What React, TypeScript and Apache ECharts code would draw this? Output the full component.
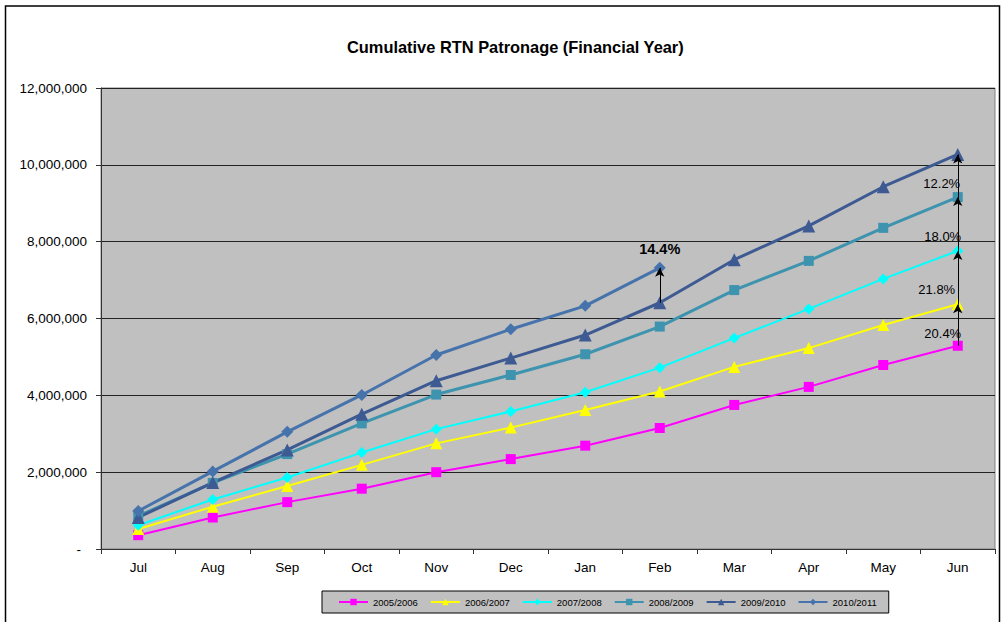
import React, { useEffect, useRef } from "react";
import * as echarts from "echarts";

const months = ["Jul", "Aug", "Sep", "Oct", "Nov", "Dec", "Jan", "Feb", "Mar", "Apr", "May", "Jun"];
const seriesNames = ["2005/2006", "2006/2007", "2007/2008", "2008/2009", "2009/2010", "2010/2011"];

const fy0506 = [360000, 820000, 1220000, 1570000, 2000000, 2340000, 2690000, 3150000, 3750000, 4220000, 4790000, 5290000];
const fy0607 = [520000, 1100000, 1640000, 2190000, 2750000, 3160000, 3620000, 4100000, 4740000, 5230000, 5830000, 6370000];
const fy0708 = [620000, 1290000, 1860000, 2510000, 3120000, 3580000, 4080000, 4720000, 5490000, 6250000, 7030000, 7760000];
const fy0809 = [860000, 1720000, 2470000, 3270000, 4020000, 4530000, 5070000, 5790000, 6740000, 7500000, 8360000, 9160000];
const fy0910 = [820000, 1730000, 2580000, 3510000, 4380000, 4970000, 5570000, 6410000, 7530000, 8410000, 9430000, 10270000];
const fy1011 = [990000, 2020000, 3050000, 4010000, 5050000, 5720000, 6330000, 7320000];

const junGrowthLabels = ["20.4%", "21.8%", "18.0%", "12.2%"];
const febGrowthLabel = "14.4%";

const yTicks = { min: 0, max: 12000000, interval: 2000000 };

const FONT = "'Liberation Sans', Arial, sans-serif";

export default function App() {
  const ref = useRef<HTMLDivElement>(null);

  useEffect(() => {
    document.body.style.margin = "0";
    if (!ref.current) return;
    const chart = echarts.init(ref.current, undefined, { renderer: "svg" });

    const allData = [fy0506, fy0607, fy0708, fy0809, fy0910, fy1011];
    const colors = ["#FF00FF", "#FFFF00", "#00FFFF", "#3E93AE", "#3D5A92", "#4673AB"];
    const symbols = ["rect", "triangle", "diamond", "rect", "triangle", "diamond"];
    const symbolSizes = [10, 12, 11, 10, 13, 12];
    const widths = [2, 2, 2, 3, 3, 3];

    const last = months.length - 1;
    const feb = months.indexOf("Feb");
    const junChain = [fy0506, fy0607, fy0708, fy0809, fy0910];

    const markLineData: any[] = [];
    markLineData.push([
      { coord: [months[feb], fy0910[feb]] },
      { coord: [months[feb], fy1011[feb]] },
    ]);
    for (let i = 0; i < junChain.length - 1; i++) {
      markLineData.push([
        { coord: [months[last], junChain[i][last]] },
        { coord: [months[last], junChain[i + 1][last]] },
      ]);
    }

    const labelOffsets = [
      [-15, 8],
      [-21, 12],
      [-15, 13],
      [-16, 8],
    ];
    const markPointData: any[] = [];
    for (let i = 0; i < junChain.length - 1; i++) {
      const mid = (junChain[i][last] + junChain[i + 1][last]) / 2;
      markPointData.push({
        coord: [months[last], mid],
        value: junGrowthLabels[i],
        symbolSize: 0,
        label: {
          show: true,
          formatter: junGrowthLabels[i],
          offset: labelOffsets[i],
          color: "#000",
          fontSize: 13,
          fontFamily: FONT,
        },
      });
    }
    markPointData.push({
      coord: [months[feb], fy1011[feb]],
      value: febGrowthLabel,
      symbolSize: 0,
      label: {
        show: true,
        formatter: febGrowthLabel,
        offset: [0, -19],
        color: "#000",
        fontSize: 14.5,
        fontWeight: "bold",
        fontFamily: FONT,
      },
    });

    const series: any[] = allData.map((d, i) => ({
      name: seriesNames[i],
      type: "line",
      data: d,
      symbol: symbols[i],
      symbolSize: symbolSizes[i],
      showSymbol: true,
      color: colors[i],
      lineStyle: { color: colors[i], width: widths[i] },
      itemStyle: { color: colors[i] },
      emphasis: { disabled: true },
    }));

    series[5].markLine = {
      silent: true,
      symbol: ["none", "arrow"],
      symbolSize: [7, 9],
      lineStyle: { color: "#000", width: 1, type: "solid" },
      label: { show: false },
      data: markLineData,
      animation: false,
    };
    series[5].markPoint = {
      silent: true,
      symbol: "circle",
      data: markPointData,
      animation: false,
    };

    chart.setOption({
      animation: false,
      textStyle: { fontFamily: FONT },
      title: {
        text: "Cumulative RTN Patronage (Financial Year)",
        left: 342,
        top: 34,
        textStyle: { fontSize: 16.4, fontWeight: "bold", color: "#000", fontFamily: FONT },
      },
      graphic: [
        {
          type: "rect",
          shape: { x: 5.5, y: 6, width: 994, height: 700 },
          style: { fill: "none", stroke: "#000", lineWidth: 1.5 },
          silent: true,
        },
      ],
      legend: {
        data: seriesNames,
        left: 322,
        top: 591,
        padding: [6, 12, 6, 16],
        itemGap: 12,
        itemWidth: 29,
        itemHeight: 8,
        backgroundColor: "#C0C0C0",
        borderColor: "#000",
        borderWidth: 1,
        textStyle: { fontSize: 9.5, color: "#000", fontFamily: FONT },
        selectedMode: false,
      },
      grid: {
        left: 101,
        right: 7,
        top: 88,
        bottom: 73,
        show: true,
        backgroundColor: "#C0C0C0",
        borderColor: "#808080",
        borderWidth: 1,
      },
      xAxis: {
        type: "category",
        data: months,
        boundaryGap: true,
        axisLine: { lineStyle: { color: "#333", width: 1 } },
        axisTick: { show: true, length: 5, lineStyle: { color: "#333" } },
        axisLabel: { color: "#000", fontSize: 13.5, margin: 11, fontFamily: FONT },
      },
      yAxis: {
        type: "value",
        min: yTicks.min,
        max: yTicks.max,
        interval: yTicks.interval,
        axisLine: { show: true, lineStyle: { color: "#333", width: 1 } },
        axisTick: { show: true, length: 5, lineStyle: { color: "#333" } },
        splitLine: { show: true, lineStyle: { color: "#222", width: 1 } },
        axisLabel: {
          color: "#000",
          fontSize: 13.5,
          margin: 14,
          fontFamily: FONT,
          formatter: (v: number) => (v === 0 ? "{d|-}" : v.toLocaleString("en-US")),
          rich: { d: { padding: [0, 6, 0, 0], fontSize: 13.5, color: "#000" } },
        },
      },
      series,
    });

    return () => chart.dispose();
  }, []);

  return <div ref={ref} style={{ width: 1002, height: 622 }} />;
}
